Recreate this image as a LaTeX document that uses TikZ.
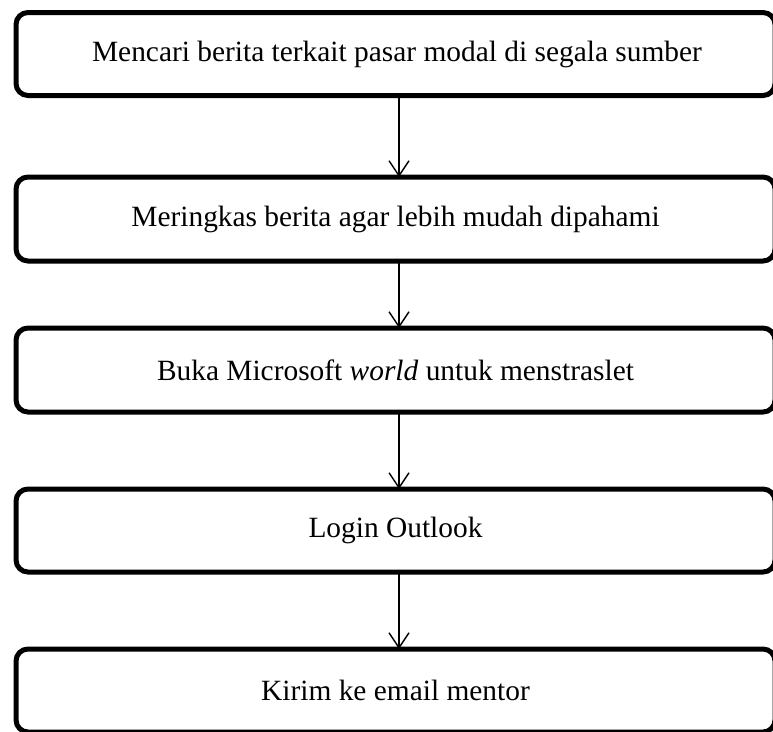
\documentclass[tikz,border=0pt]{standalone}
\usepackage{fontspec}
\setmainfont{Liberation Serif}
\usetikzlibrary{arrows.meta}
\begin{document}
\begin{tikzpicture}[x=1pt,y=-1pt,
  stepbox/.style={draw=black, line width=5pt, rounded corners=12pt, outer sep=0pt,
    minimum width=759pt, minimum height=83pt, inner sep=0pt,
    font=\fontsize{29.4}{34}\selectfont},
  arr/.style={draw=black, line width=1.4pt, -{Straight Barb[length=15pt,width=20pt,line width=1.4pt]}}]
\useasboundingbox (0,0) rectangle (773,731);
\clip (0,0) rectangle (773,731);
\node[stepbox] (b1) at (395.5,54) {\hspace*{3pt}Mencari berita terkait pasar modal di segala sumber};
\node[stepbox, minimum height=84pt] (b2) at (395.5,219) {Meringkas berita agar lebih mudah dipahami};
\node[stepbox, minimum height=84pt] (b3) at (395.5,370) {Buka Microsoft \textit{world} untuk menstraslet};
\node[stepbox] (b4) at (395.5,530.5) {Login Outlook};
\node[stepbox] (b5) at (395.5,690.5) {Kirim ke email mentor};
\coordinate (ax) at (399,0);
\draw[arr] (b1.south -| ax) -- (b2.north -| ax);
\draw[arr] (b2.south -| ax) -- (b3.north -| ax);
\draw[arr] (b3.south -| ax) -- (b4.north -| ax);
\draw[arr] (b4.south -| ax) -- (b5.north -| ax);
\end{tikzpicture}
\end{document}
